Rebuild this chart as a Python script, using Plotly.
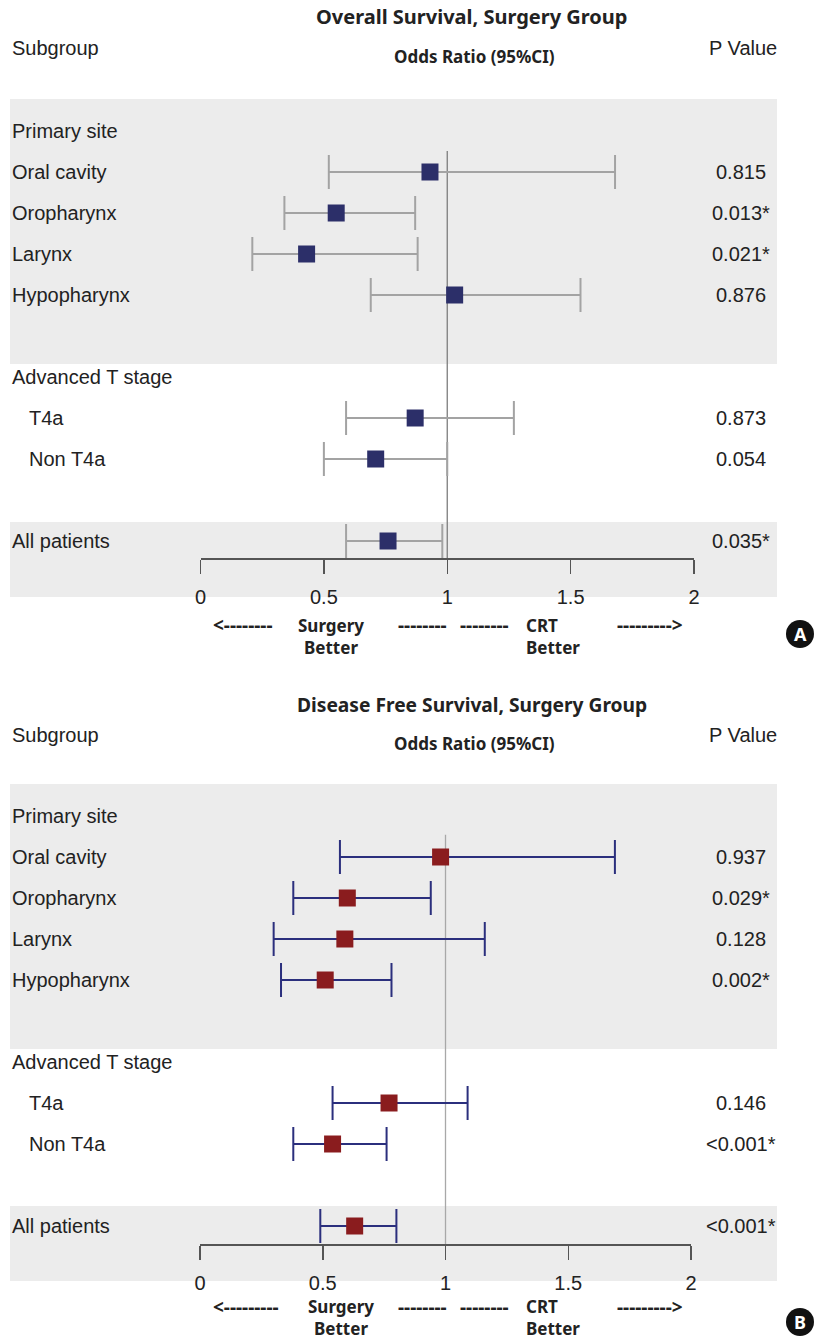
import plotly.graph_objects as go

W, H = 814, 1339

# ---------------- data ----------------
section_headers = ["Primary site", "Advanced T stage"]
site_labels = ["Oral cavity", "Oropharynx", "Larynx", "Hypopharynx"]
stage_labels = ["T4a", "Non T4a"]
overall_label = "All patients"

# Panel A: Overall Survival
os_or = [0.93, 0.55, 0.43, 1.03, 0.87, 0.71, 0.76]
os_lo = [0.52, 0.34, 0.21, 0.69, 0.59, 0.50, 0.59]
os_hi = [1.68, 0.87, 0.88, 1.54, 1.27, 1.00, 0.98]
os_p = ["0.815", "0.013*", "0.021*", "0.876", "0.873", "0.054", "0.035*"]

# Panel B: Disease Free Survival
dfs_or = [0.98, 0.60, 0.59, 0.51, 0.77, 0.54, 0.63]
dfs_lo = [0.57, 0.38, 0.30, 0.33, 0.54, 0.38, 0.49]
dfs_hi = [1.69, 0.94, 1.16, 0.78, 1.09, 0.76, 0.80]
dfs_p = ["0.937", "0.029*", "0.128", "0.002*", "0.146", "<0.001*", "<0.001*"]

x_ticks = [0, 0.5, 1, 1.5, 2]
x_tick_text = ["0", "0.5", "1", "1.5", "2"]

titles = ["Overall Survival, Surgery Group", "Disease Free Survival, Surgery Group"]
badges = ["A", "B"]

# ---------------- layout helpers ----------------
FONT = "Liberation Sans, Arial, sans-serif"
BOLD = "Noto Sans, sans-serif"
TXT = "#222222"
BAND = "#ececec"

# row slots (header, 4 sites, gap, header, 2 stages, gap, all)
site_slots = [1, 2, 3, 4]
stage_slots = [7, 8]
header_slots = [0, 6]
all_slot = 10
item_slots = site_slots + stage_slots + [all_slot]
item_labels = site_labels + stage_labels + [overall_label]
item_indent = [0, 0, 0, 0, 1, 1, 0]

panels = [
    dict(or_=os_or, lo=os_lo, hi=os_hi, p=os_p, row0=131, step=41, axis=558, top=99,
         band1=(99, 364), band2=(522, 597), x0=200.5, x2=694, title_y=17, sub_y=48,
         or_y=57, arrow_y=625, better_mid=636, ref_top=0.49, title_size=20,
         mcol="#2c2f69", wcol="#a3a3a3", rcol="#7d7d7d", surg_c=331,
         arrows=["<--------", "--------->"], badge_y=634),
    dict(or_=dfs_or, lo=dfs_lo, hi=dfs_hi, p=dfs_p, row0=816, step=41, axis=1244, top=784,
         band1=(784, 1049), band2=(1206, 1281), x0=200, x2=691, title_y=704, sub_y=735,
         or_y=743, arrow_y=1307, better_mid=1317, ref_top=0.46, title_size=19.2,
         mcol="#8a1c1e", wcol="#2b2f7d", rcol="#a8a8a8", surg_c=341,
         arrows=["<---------", "--------->"], badge_y=1322),
]


def py(px):
    return 1 - px / H


def pxx(px):
    return px / W


fig = go.Figure()
shapes = []
annotations = []
layout_axes = {}

for i, P in enumerate(panels):
    k = "" if i == 0 else str(i + 1)
    xa, ya = "x" + k, "y" + k
    y_bottom = (P["axis"] - P["row0"]) / P["step"]
    y_top = (P["top"] - P["row0"]) / P["step"]

    layout_axes["xaxis" + k] = dict(
        domain=[pxx(P["x0"]), pxx(P["x2"])], range=[0, 2], anchor=ya,
        showline=True, linecolor="#555555", linewidth=1.5,
        ticks="outside", ticklen=14, tickwidth=1.5, tickcolor="#555555",
        tickvals=x_ticks, ticktext=x_tick_text, ticklabelstandoff=6,
        tickfont=dict(family=FONT, size=20, color=TXT),
        showgrid=False, zeroline=False, fixedrange=True)
    layout_axes["yaxis" + k] = dict(
        domain=[py(P["axis"]), py(P["top"])], range=[y_bottom, y_top], anchor=xa,
        visible=False, showgrid=False, zeroline=False, fixedrange=True)

    # grey bands
    for (a, b) in (P["band1"], P["band2"]):
        shapes.append(dict(type="rect", xref="paper", yref="paper", x0=pxx(10), x1=pxx(777),
                           y0=py(b), y1=py(a), fillcolor=BAND, line=dict(width=0), layer="below"))
    # reference line at OR = 1
    shapes.append(dict(type="line", xref=xa, yref=ya, x0=1, x1=1, y0=P["ref_top"], y1=y_bottom,
                       line=dict(color=P["rcol"], width=1.3), layer="below"))

    fig.add_trace(go.Scatter(
        x=P["or_"], y=item_slots, xaxis=xa, yaxis=ya, mode="markers",
        marker=dict(symbol="square", size=17, color=P["mcol"], line=dict(width=0)),
        error_x=dict(type="data", symmetric=False,
                     array=[h - o for h, o in zip(P["hi"], P["or_"])],
                     arrayminus=[o - l for o, l in zip(P["or_"], P["lo"])],
                     color=P["wcol"], thickness=2, width=17),
        showlegend=False, hoverinfo="skip"))

    # titles / headers
    annotations.append(dict(text="<b>" + titles[i] + "</b>", xref="paper", yref="paper",
                            x=pxx(472), y=py(P["title_y"]), xanchor="center", yanchor="middle",
                            showarrow=False, font=dict(family=BOLD, size=P["title_size"], color=TXT)))
    annotations.append(dict(text="Subgroup", xref="paper", yref="paper", x=pxx(10), y=py(P["sub_y"]),
                            xanchor="left", yanchor="middle", showarrow=False,
                            font=dict(family=FONT, size=20, color=TXT)))
    annotations.append(dict(text="P Value", xref="paper", yref="paper", x=pxx(779), y=py(P["sub_y"]),
                            xanchor="right", yanchor="middle", showarrow=False,
                            font=dict(family=FONT, size=20, color=TXT)))
    annotations.append(dict(text="<b>Odds Ratio (95%CI)</b>", xref="paper", yref="paper", x=pxx(474),
                            y=py(P["or_y"]), xanchor="center", yanchor="middle", showarrow=False,
                            font=dict(family=BOLD, size=17, color=TXT)))

    # row labels
    for s, lab in zip(header_slots, section_headers):
        annotations.append(dict(text=lab, xref="paper", yref=ya, x=pxx(10), y=s,
                                xanchor="left", yanchor="middle", showarrow=False,
                                font=dict(family=FONT, size=20, color=TXT)))
    for s, lab, ind, pv in zip(item_slots, item_labels, item_indent, P["p"]):
        annotations.append(dict(text=lab, xref="paper", yref=ya, x=pxx(10 + 17 * ind), y=s,
                                xanchor="left", yanchor="middle", showarrow=False,
                                font=dict(family=FONT, size=20, color=TXT)))
        annotations.append(dict(text=pv, xref="paper", yref=ya, x=pxx(741), y=s,
                                xanchor="center", yanchor="middle", showarrow=False,
                                font=dict(family=FONT, size=20, color=TXT)))

    # direction annotation row
    af = dict(family=BOLD, size=19, color=TXT)
    for txt, xx in ((P["arrows"][0], 211), ("--------", 396), ("--------", 458), (P["arrows"][1], 615)):
        annotations.append(dict(text="<b>" + txt + "</b>", xref="paper", yref="paper", x=pxx(xx),
                                y=py(P["arrow_y"]), xanchor="left", yanchor="middle",
                                showarrow=False, font=af))
    annotations.append(dict(text="<b>Surgery<br>Better</b>", xref="paper", yref="paper",
                            x=pxx(P["surg_c"]), y=py(P["better_mid"]), xanchor="center",
                            yanchor="middle", align="center", showarrow=False,
                            font=dict(family=BOLD, size=17, color=TXT)))
    annotations.append(dict(text="<b>CRT<br>Better</b>", xref="paper", yref="paper",
                            x=pxx(524), y=py(P["better_mid"]), xanchor="left",
                            yanchor="middle", align="left", showarrow=False,
                            font=dict(family=BOLD, size=17, color=TXT)))

    # panel badge
    r = 14
    shapes.append(dict(type="circle", xref="paper", yref="paper", x0=pxx(800 - r), x1=pxx(800 + r),
                       y0=py(P["badge_y"] + r), y1=py(P["badge_y"] - r), fillcolor="#111111",
                       line=dict(width=0)))
    annotations.append(dict(text="<b>" + badges[i] + "</b>", xref="paper", yref="paper", x=pxx(800),
                            y=py(P["badge_y"]), xanchor="center", yanchor="middle", showarrow=False,
                            font=dict(family=BOLD, size=18, color="white")))

fig.update_layout(
    width=W, height=H, margin=dict(l=0, r=0, t=0, b=0, pad=0, autoexpand=False),
    paper_bgcolor="white", plot_bgcolor="rgba(0,0,0,0)",
    shapes=shapes, annotations=annotations, showlegend=False,
    **layout_axes)

fig.write_html(
    "out.html",
    config={"displayModeBar": False, "staticPlot": True},
    post_script="document.body.style.margin='0px';document.body.style.padding='0px';"
                "document.documentElement.style.overflow='hidden';document.body.style.overflow='hidden';")
